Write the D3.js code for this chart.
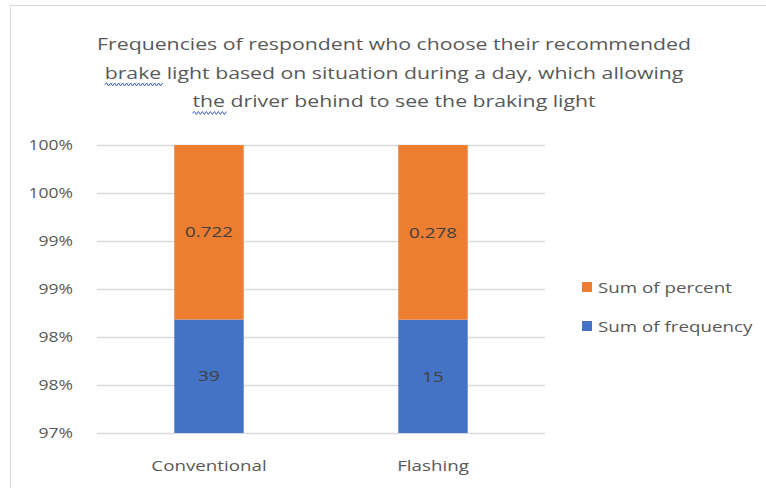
<!DOCTYPE html>
<html lang="en">
<head>
<meta charset="UTF-8">
<title>Brake light frequencies</title>
<script src="https://cdnjs.cloudflare.com/ajax/libs/d3/7.8.5/d3.min.js"></script>
<style>
    body { margin: 0; background: #fff; }
    text { font-family: "Open Sans", sans-serif; fill: #595959; }
    .grid line { stroke: #d9d9d9; stroke-width: 1.5; }
    .grid path { display: none; }
</style>
</head>
<body>
<svg width="766" height="488"></svg>
<script>

    // data
    var categories = ['Conventional', 'Flashing'];
    var frequency = [39, 15];
    var percent = [0.722, 0.278];
    var seriesNames = ['Sum of frequency', 'Sum of percent'];
    var tickValues = [0.97, 0.975, 0.98, 0.985, 0.99, 0.995, 1.0];
    var tickLabels = ['97%', '98%', '98%', '99%', '99%', '100%', '100%'];
    var titleLines = [
        'Frequencies of respondent who choose their recommended',
        'brake light based on situation during a day, which allowing',
        'the driver behind to see the braking light'
    ];

    var colors = ['#4472c4', '#ed7d31'];
    var SX = 1.25; // source picture is stretched sideways

    var svg = d3.select('svg');
    var plotLeft = 97, plotRight = 545, plotTop = 145, plotBottom = 433;

    function stretch(sel) {
        sel.each(function() {
            var w = this.getComputedTextLength();
            d3.select(this).attr('textLength', w * SX).attr('lengthAdjust', 'spacingAndGlyphs');
        });
    }

    function wavy(x0, x1, yy) {
        var p = 'M' + x0 + ',' + yy;
        for (var xx = x0, up = true; xx < x1; xx += 2, up = !up) {
            p += 'L' + (xx + 2) + ',' + (up ? yy - 1.5 : yy + 1.5);
        }
        return p;
    }

    svg.append('rect')
        .attr('x', 10.5).attr('y', 5.5)
        .attr('width', 800).attr('height', 600)
        .attr('fill', 'none').attr('stroke', '#d9d9d9');

    // title
    var cx = 394;
    titleLines.forEach(function(line, i) {
        var ty = 50 + i * 28.5;
        var t = svg.append('text')
            .attr('x', cx).attr('y', ty)
            .attr('text-anchor', 'middle')
            .style('font-size', '17px')
            .text(line);
        var w = t.node().getComputedTextLength();
        var first = line.split(' ')[0];
        var sub = t.node().getSubStringLength(0, first.length);
        t.call(stretch);
        // spell-check squiggle under first word of lines 2 and 3
        if (i > 0) {
            var x0 = cx - w * SX / 2;
            svg.append('path')
                .attr('d', wavy(x0, x0 + sub * SX, ty + 6))
                .attr('fill', 'none')
                .attr('stroke', '#3c5ad6')
                .attr('stroke-width', 1);
        }
    });

    var rows = categories.map(function(c, i) {
        return { cat: c, freq: frequency[i], pct: percent[i] };
    });
    var stack = d3.stack().keys(['freq', 'pct']).offset(d3.stackOffsetExpand);
    var series = stack(rows);

    var x = d3.scaleBand()
        .domain(categories)
        .range([plotLeft, plotRight])
        .paddingInner(0.69)
        .paddingOuter(0.345);

    var y = d3.scaleLinear()
        .domain([tickValues[0], tickValues[tickValues.length - 1]])
        .range([plotBottom, plotTop]);

    var yAxis = d3.axisLeft(y)
        .tickValues(tickValues)
        .tickSize(-(plotRight - plotLeft))
        .tickPadding(24)
        .tickFormat(function(d) { return tickLabels[tickValues.indexOf(d)]; });

    var gY = svg.append('g')
        .attr('class', 'grid')
        .attr('transform', 'translate(' + plotLeft + ',0)')
        .call(yAxis);
    gY.selectAll('text')
        .attr('font-family', null)
        .style('font-size', '14px')
        .attr('fill', '#595959')
        .call(stretch);

    svg.append('clipPath').attr('id', 'plot')
        .append('rect')
        .attr('x', plotLeft).attr('y', plotTop)
        .attr('width', plotRight - plotLeft).attr('height', plotBottom - plotTop);

    var lo = y.domain()[0];
    var gS = svg.append('g').attr('clip-path', 'url(#plot)')
        .selectAll('g')
        .data(series)
        .enter().append('g')
        .attr('fill', function(d, i) { return colors[i]; });

    gS.selectAll('rect')
        .data(function(d) { return d; })
        .enter().append('rect')
        .attr('x', function(d) { return x(d.data.cat); })
        .attr('width', x.bandwidth())
        .attr('y', function(d) { return y(d[1]); })
        .attr('height', function(d) { return y(Math.max(d[0], lo)) - y(d[1]); });

    // data labels centred in the visible part of each segment
    series.forEach(function(s) {
        svg.append('g').selectAll('text')
            .data(s)
            .enter().append('text')
            .attr('x', function(d) { return x(d.data.cat) + x.bandwidth() / 2; })
            .attr('y', function(d) { return (y(Math.max(d[0], lo)) + y(d[1])) / 2; })
            .attr('dy', '0.35em')
            .attr('text-anchor', 'middle')
            .style('font-size', '15px')
            .style('fill', '#404040')
            .text(function(d) { return d.data[s.key]; })
            .call(stretch);
    });

    // category axis
    svg.append('g').selectAll('text')
        .data(categories)
        .enter().append('text')
        .attr('x', function(d) { return x(d) + x.bandwidth() / 2; })
        .attr('y', 471)
        .attr('text-anchor', 'middle')
        .style('font-size', '15px')
        .text(function(d) { return d; })
        .call(stretch);

    // legend, top series first
    var legend = svg.append('g').selectAll('g')
        .data([1, 0])
        .enter().append('g')
        .attr('transform', function(d, i) { return 'translate(582,' + (288 + i * 39) + ')'; });
    legend.append('rect')
        .attr('y', -6).attr('width', 10).attr('height', 10)
        .attr('fill', function(d) { return colors[d]; });
    legend.append('text')
        .attr('x', 16).attr('dy', '0.35em')
        .style('font-size', '15px')
        .text(function(d) { return seriesNames[d]; })
        .call(stretch);

</script>
</body>
</html>
